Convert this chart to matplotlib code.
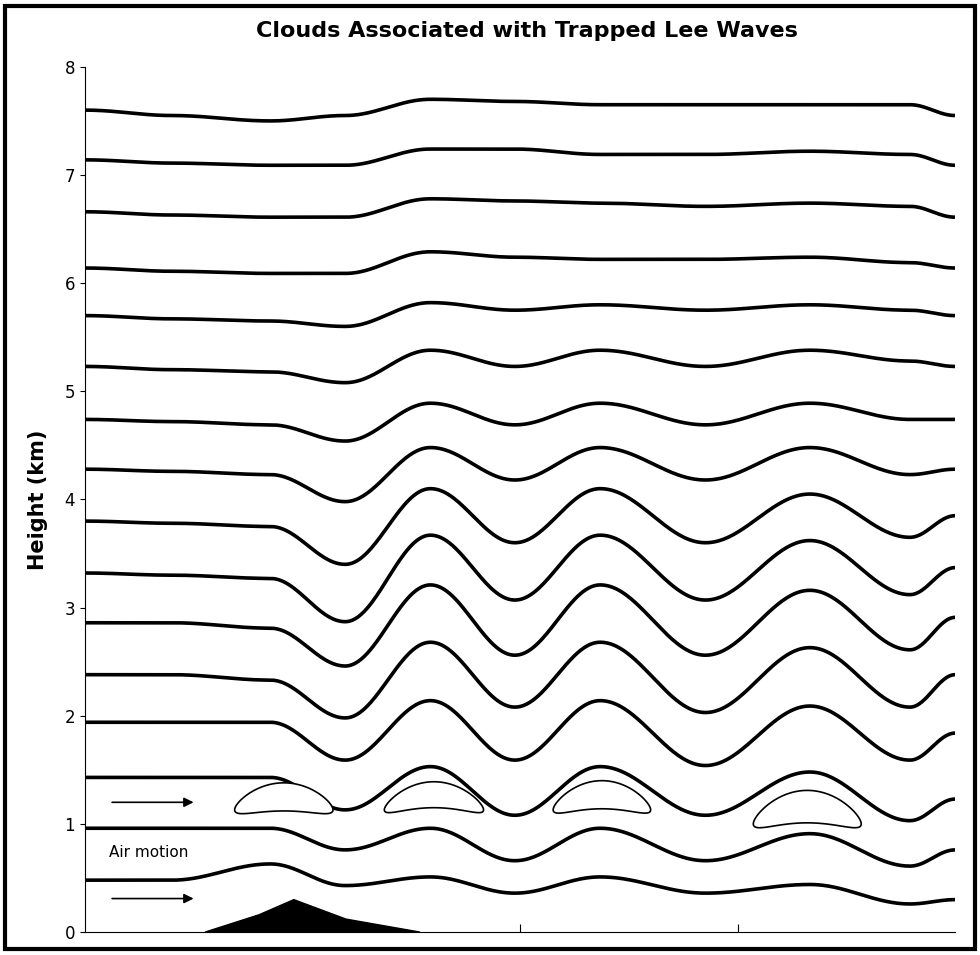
import numpy as np
import matplotlib
matplotlib.use("Agg")
import matplotlib.pyplot as plt
from matplotlib.patches import Polygon, Rectangle

title = "Clouds Associated with Trapped Lee Waves"
ylabel = "Height (km)"
yticks = [0, 1, 2, 3, 4, 5, 6, 7, 8]
key_x = [0, 1.0, 2.13, 2.99, 3.97, 4.94, 5.92, 7.13, 8.33, 9.48, 10]
base_heights = [0.48, 0.96, 1.43, 1.94, 2.38, 2.86, 3.32, 3.8, 4.28, 4.74, 5.23, 5.7, 6.14, 6.66, 7.14, 7.6]
offsets = [
    [0, 0.0, 0.15, -0.05, 0.03, -0.12, 0.03, -0.12, -0.04, -0.22, -0.18],
    [0, 0.0, 0.0, -0.2, 0.0, -0.3, 0.0, -0.3, -0.05, -0.35, -0.2],
    [0, 0.0, 0.0, -0.3, 0.1, -0.35, 0.1, -0.35, 0.05, -0.4, -0.2],
    [0, 0.0, 0.0, -0.35, 0.2, -0.35, 0.2, -0.4, 0.15, -0.35, -0.1],
    [0, 0.0, -0.05, -0.4, 0.3, -0.3, 0.3, -0.35, 0.25, -0.3, 0.0],
    [0, 0.0, -0.05, -0.4, 0.35, -0.3, 0.35, -0.3, 0.3, -0.25, 0.05],
    [0, -0.02, -0.05, -0.45, 0.35, -0.25, 0.35, -0.25, 0.3, -0.2, 0.05],
    [0, -0.02, -0.05, -0.4, 0.3, -0.2, 0.3, -0.2, 0.25, -0.15, 0.05],
    [0, -0.02, -0.05, -0.3, 0.2, -0.1, 0.2, -0.1, 0.2, -0.05, 0.0],
    [0, -0.02, -0.05, -0.2, 0.15, -0.05, 0.15, -0.05, 0.15, 0.0, 0.0],
    [0, -0.03, -0.05, -0.15, 0.15, 0.0, 0.15, 0.0, 0.15, 0.05, 0.0],
    [0, -0.03, -0.05, -0.1, 0.12, 0.05, 0.1, 0.05, 0.1, 0.05, 0.0],
    [0, -0.03, -0.05, -0.05, 0.15, 0.1, 0.08, 0.08, 0.1, 0.05, 0.0],
    [0, -0.03, -0.05, -0.05, 0.12, 0.1, 0.08, 0.05, 0.08, 0.05, -0.05],
    [0, -0.03, -0.05, -0.05, 0.1, 0.1, 0.05, 0.05, 0.08, 0.05, -0.05],
    [0, -0.05, -0.1, -0.05, 0.1, 0.08, 0.05, 0.05, 0.05, 0.05, -0.05],
]
# clouds: (x_left, x_right, end height, bend, half thickness)
clouds = [(1.72, 2.85, 1.13, 0.12, 0.13), (3.44, 4.58, 1.13, 0.14, 0.12), (5.38, 6.5, 1.13, 0.14, 0.13), (7.68, 8.92, 1.0, 0.16, 0.15)]
mountain_x = [1.38, 2.0, 2.4, 3.0, 3.85]
mountain_y = [0.0, 0.16, 0.3, 0.12, 0.0]

def smooth(xk, yk, n=600):
    xs = np.linspace(xk[0], xk[-1], n)
    ys = np.empty_like(xs)
    for i, x in enumerate(xs):
        j = min(np.searchsorted(xk, x, side="right") - 1, len(xk) - 2)
        t = (x - xk[j]) / (xk[j + 1] - xk[j])
        w = (1 - np.cos(np.pi * t)) / 2
        ys[i] = yk[j] * (1 - w) + yk[j + 1] * w
    return xs, ys

fig = plt.figure(figsize=(9.8, 9.55), dpi=100)
ax = fig.add_axes([0.0867, 0.024, 0.888, 0.906])
for h, off in zip(base_heights, offsets):
    xs, ys = smooth(key_x, [h + o for o in off])
    ax.plot(xs, ys, color="black", lw=2.6, solid_capstyle="round")

for xl, xr, ye, bend, th in clouds:
    t = np.linspace(0, np.pi, 80)
    u = -np.cos(t)  # -1..1
    xx = (xl + xr) / 2 + (xr - xl) / 2 * u
    mid = ye + bend * (1 - u ** 2)
    half = th * np.sin(t)
    pts = np.column_stack([np.r_[xx, xx[::-1]], np.r_[mid + half, (mid - half)[::-1]]])
    ax.add_patch(Polygon(pts, closed=True, fc="white", ec="black", lw=1.2, zorder=3))

ax.fill(mountain_x, mountain_y, color="black", zorder=4)
for yy in [1.2, 0.31]:
    ax.annotate("", xy=(1.28, yy), xytext=(0.28, yy),
                arrowprops=dict(arrowstyle="-|>", color="black", lw=1.2, mutation_scale=14))
ax.text(0.28, 0.74, "Air motion", fontsize=11, va="center", family="Liberation Sans Narrow")

ax.set_xlim(0, 10)
ax.set_ylim(0, 8)
ax.set_yticks(yticks)
ax.set_xticks([5.0, 7.5])
ax.set_xticklabels([])
ax.tick_params(axis="x", direction="in", length=6)
ax.tick_params(axis="y", labelsize=12)
for s in ["top", "right"]:
    ax.spines[s].set_visible(False)
ax.set_ylabel(ylabel, fontsize=15, fontweight="bold", labelpad=12)
fig.text(0.538, 0.968, title, ha="center", va="center", fontsize=16, fontweight="bold")
fig.add_artist(Rectangle((0.005, 0.006), 0.99, 0.988, transform=fig.transFigure,
                         fill=False, ec="black", lw=3))
fig.savefig("out.png", dpi=100)
